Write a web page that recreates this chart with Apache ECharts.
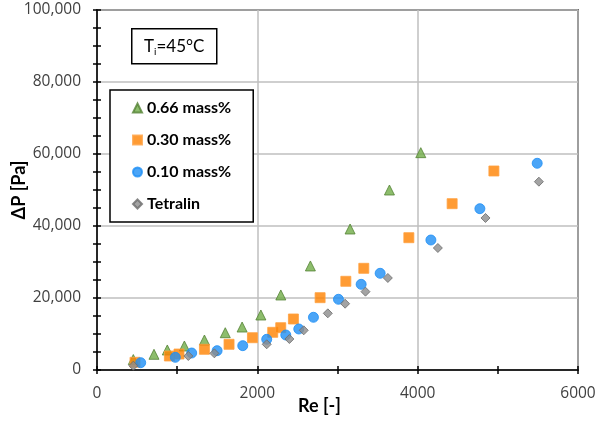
<!DOCTYPE html>
<html>
<head>
<meta charset="utf-8">
<script src="https://cdn.jsdelivr.net/npm/echarts@6/dist/echarts.min.js"></script>
<style>
  html, body { margin: 0; padding: 0; background: #fff; }
  #chart { width: 598px; height: 421px; }
</style>
</head>
<body>
<div id="chart"></div>
<script>
// Pressure drop vs Reynolds number, inlet temperature 45 °C
const seriesNames = ['0.66 mass%', '0.30 mass%', '0.10 mass%', 'Tetralin'];

const re066 = [453, 711, 877, 1090, 1340, 1600, 1810, 2044, 2293, 2662, 3157, 3648, 4039];
const dp066 = [2900, 4360, 5560, 6670, 8330, 10360, 11940, 15280, 20840, 28900, 39170, 50000, 60370];

const re030 = [474, 903, 1023, 1340, 1647, 1939, 2192, 2292, 2450, 2783, 3104, 3328, 3890, 4430, 4951];
const dp030 = [2140, 3890, 4440, 5750, 7140, 8970, 10470, 11750, 14170, 20090, 24640, 28250, 36750, 46200, 55280];

const re010 = [545, 977, 1181, 1498, 1818, 2117, 2355, 2517, 2700, 3012, 3295, 3532, 4165, 4776, 5491];
const dp010 = [2030, 3520, 4720, 5370, 6760, 8520, 9720, 11390, 14640, 19640, 23800, 26860, 36110, 44810, 57420];

const reTet = [453, 1139, 1464, 2117, 2400, 2579, 2879, 3095, 3349, 3628, 4252, 4846, 5512];
const dpTet = [1200, 3890, 4630, 7140, 8610, 11020, 15740, 18420, 21760, 25560, 33890, 42230, 52310];

const xTicks = [0, 2000, 4000, 6000];
const yTicks = [0, 20000, 40000, 60000, 80000, 100000];

const pairs = (xs, ys) => xs.map((x, i) => [x, ys[i]]);

const FONT = 'Lato, "Open Sans", sans-serif';
const TICK_FONT = '"Open Sans", Lato, sans-serif';
const chart = echarts.init(document.getElementById('chart'), null, { renderer: 'canvas' });

const xBase = { type: 'value', min: xTicks[0], max: xTicks[xTicks.length - 1], interval: 2000, gridIndex: 0 };
const yBase = { type: 'value', min: yTicks[0], max: yTicks[yTicks.length - 1], interval: 20000, gridIndex: 0 };

const markerStyles = [
  { symbol: 'triangle', size: 10, color: '#70AD47', border: '#548235' },
  { symbol: 'rect', size: 10, color: '#FF8200', border: '#FFA040' },
  { symbol: 'circle', size: 10, color: '#1E8FF5', border: '#1E8FF5' },
  { symbol: 'diamond', size: 9, color: '#8C8C8C', border: '#6B6B6B' }
];
const dataSets = [pairs(re066, dp066), pairs(re030, dp030), pairs(re010, dp010), pairs(reTet, dpTet)];

chart.setOption({
  animation: false,
  backgroundColor: '#fff',
  grid: {
    left: 97, right: 20, top: 10, bottom: 51,
    containLabel: false, outerBoundsMode: 'none',
    show: true, borderColor: '#000', borderWidth: 1.5, backgroundColor: 'transparent'
  },
  legend: {
    orient: 'vertical',
    left: 110, top: 90,
    padding: [10, 22, 10, 22],
    itemGap: 16,
    itemWidth: 9, itemHeight: 9,
    borderColor: '#000', borderWidth: 1.5,
    backgroundColor: '#fff',
    textStyle: { fontFamily: FONT, fontWeight: 'bold', fontSize: 16, color: '#000' },
    data: seriesNames
  },
  xAxis: [
    Object.assign({}, xBase, {
      position: 'bottom',
      name: 'Re [-]', nameLocation: 'middle', nameGap: 27, nameMoveOverlap: false,
      nameTextStyle: { fontFamily: FONT, fontWeight: 'bold', fontSize: 18, color: '#000', padding: [0, 36, 0, 0] },
      axisLine: { show: true, onZero: false, lineStyle: { color: '#000', width: 1.5 } },
      axisTick: { show: true, inside: false, length: 4, lineStyle: { color: '#000', width: 1.5 } },
      minorTick: { show: true, splitNumber: 2, length: 4, lineStyle: { color: '#000', width: 1.5 } },
      axisLabel: { fontFamily: TICK_FONT, fontSize: 15.5, color: '#404040', margin: 16, formatter: v => String(v) },
      splitLine: { show: true, lineStyle: { color: '#BFBFBF', width: 1.5 } }
    }),
    Object.assign({}, xBase, {
      position: 'bottom',
      axisLine: { show: false },
      axisTick: { show: true, inside: true, length: 4, lineStyle: { color: '#000', width: 1.5 } },
      minorTick: { show: true, splitNumber: 2, length: 4, lineStyle: { color: '#000', width: 1.5 } },
      axisLabel: { show: false },
      splitLine: { show: false }
    })
  ],
  yAxis: [
    Object.assign({}, yBase, {
      position: 'left',
      name: 'ΔP [Pa]', nameLocation: 'middle', nameGap: 69, nameRotate: 90, nameMoveOverlap: false,
      nameTextStyle: { fontFamily: FONT, fontWeight: 'bold', fontSize: 18, color: '#000' },
      axisLine: { show: true, onZero: false, lineStyle: { color: '#000', width: 1.5 } },
      axisTick: { show: true, inside: false, length: 4, lineStyle: { color: '#000', width: 1.5 } },
      minorTick: { show: true, splitNumber: 4, length: 4, lineStyle: { color: '#000', width: 1.5 } },
      axisLabel: {
        fontFamily: TICK_FONT, fontSize: 15.5, color: '#404040', margin: 16,
        formatter: v => v.toLocaleString('en-US')
      },
      splitLine: { show: true, lineStyle: { color: '#BFBFBF', width: 1.5 } }
    }),
    Object.assign({}, yBase, {
      position: 'left',
      axisLine: { show: false },
      axisTick: { show: true, inside: true, length: 4, lineStyle: { color: '#000', width: 1.5 } },
      minorTick: { show: true, splitNumber: 4, length: 4, lineStyle: { color: '#000', width: 1.5 } },
      axisLabel: { show: false },
      splitLine: { show: false }
    })
  ],
  graphic: [
    {
      type: 'group', left: 131, top: 28,
      children: [
        { type: 'rect', shape: { x: 0, y: 0, width: 85, height: 35 },
          style: { fill: '#fff', stroke: '#000', lineWidth: 1.5 } },
        { type: 'text', x: 42.5, y: 18,
          style: {
            text: '{m|T}{s|i}{m|=45°C}',
            align: 'center', verticalAlign: 'middle',
            rich: {
              m: { fontFamily: FONT, fontSize: 17, color: '#000' },
              s: { fontFamily: FONT, fontSize: 10, color: '#000', padding: [10, 0, 0, 0] }
            }
          } }
      ]
    }
  ],
  series: seriesNames.map((name, i) => ({
    name: name,
    type: 'scatter',
    xAxisIndex: 0, yAxisIndex: 0,
    symbol: markerStyles[i].symbol,
    symbolSize: markerStyles[i].size,
    itemStyle: { color: markerStyles[i].color, borderColor: markerStyles[i].border, borderWidth: 1 },
    data: dataSets[i]
  }))
});
</script>
</body>
</html>
